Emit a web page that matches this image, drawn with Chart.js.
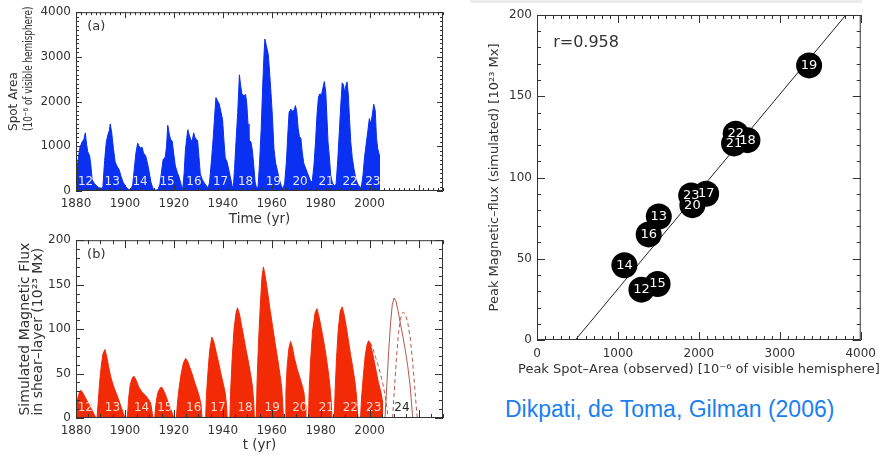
<!DOCTYPE html>
<html><head><meta charset="utf-8">
<script src="https://cdn.jsdelivr.net/npm/chart.js@4.4.1/dist/chart.umd.min.js"></script>
<style>
html,body{margin:0;padding:0;background:#fff;}
body{width:883px;height:455px;position:relative;overflow:hidden;}
canvas{position:absolute;}
#ca{left:0;top:0}
#cb{left:0;top:228px}
#cs{left:470px;top:0}
#strip{position:absolute;left:470px;top:0;width:392px;height:3px;background:#ececec}
#cite{position:absolute;left:505px;top:398px;font:23px/23px "Liberation Sans",Arial,sans-serif;color:#1a80f0;white-space:nowrap}
</style></head><body>
<div id="strip"></div>
<canvas id="ca" width="450" height="228"></canvas>
<canvas id="cb" width="450" height="227"></canvas>
<canvas id="cs" width="413" height="385"></canvas>
<div id="cite">Dikpati, de Toma, Gilman (2006)</div>
<script>
/* ===== 資料 ===== */
// (a) observed spot area, 10^-6 of visible hemisphere
const yearsA = [1880,1881,1881.5,1882.5,1883.2,1883.8,1884.3,1884.8,1885.6,1886.1,1886.6,1887.5,1888.5,1889.5,1890.5,
  1891,1891.7,1892.4,1893,1893.6,1894,1894.6,1895.3,1896,1896.7,1897.6,1898.4,1899.2,1900.3,1901.3,1902.4,
  1903.2,1903.8,1904.5,1905.2,1905.8,1906.4,1907,1907.6,1908.5,1909.3,1910,1910.6,1911.5,1912.5,1913.5,
  1914.3,1915,1915.6,1916.5,1917,1917.5,1918.2,1918.7,1919.3,1919.9,1920.6,1921.4,1922.2,1923,1923.6,
  1924.2,1924.7,1925.3,1925.7,1926.3,1926.9,1927.5,1928.1,1928.6,1929.2,1929.7,1930.2,1930.8,1931.6,1932.4,1933.4,1934,
  1934.6,1935.4,1936.1,1936.7,1937.2,1937.8,1938.5,1939.2,1939.9,1940.5,1941,1941.7,1942.5,1943.2,1943.8,1944.3,
  1944.8,1945.4,1946.1,1946.8,1947.3,1947.8,1948.5,1949.3,1949.8,1950.3,1950.7,1951.5,1952.1,1952.6,1953.2,1953.8,
  1954.4,1955,1955.7,1956.3,1956.8,1957.2,1957.8,1958.6,1959.2,1959.8,1960.3,1960.9,1961.6,1962.3,1963.1,1963.9,1964.6,
  1965.3,1966,1966.6,1967.1,1967.8,1968.5,1969.2,1969.7,1970.2,1970.8,1971.3,1971.9,1972.5,1973.1,1973.8,1974.6,1975.3,1976,
  1976.6,1977.3,1977.9,1978.5,1979.1,1979.6,1980.4,1980.9,1981.5,1982.1,1982.6,1983,1983.5,1984.1,1984.8,1985.6,
  1986.3,1987,1987.6,1988.2,1988.8,1989.3,1989.8,1990.3,1990.8,1991.3,1991.8,1992.3,1992.9,1993.6,1994.4,1995.2,1996,
  1996.6,1997.3,1997.9,1998.6,1999.3,1999.9,2000.5,2001.1,2001.7,2002.3,2002.8,2003.3,2004,2004];
const spotArea = [350,750,950,1100,1150,1300,1050,880,780,560,250,170,110,70,60,
  100,680,1100,1250,1350,1500,1300,950,650,560,480,330,200,100,40,20,
  150,480,850,1070,1000,960,980,850,780,600,400,200,50,20,30,
  150,450,700,760,1000,1470,1250,1150,1120,850,560,420,300,130,30,
  400,900,1200,1370,1250,1150,1120,1300,1200,1150,1130,800,380,260,180,110,60,
  200,700,1200,1700,2090,2020,1950,1780,1600,1100,740,660,460,280,120,80,
  500,1100,1760,2600,2350,2180,2130,2160,1950,1500,1140,1100,900,600,200,60,
  100,600,1400,2340,3000,3400,3250,3050,2600,2100,1650,950,620,460,260,120,40,
  180,650,1300,1760,1830,1780,1820,1910,1780,1400,1220,1180,850,620,520,400,300,200,
  230,600,1100,1700,2100,2170,2160,2300,2450,2200,1600,1100,800,350,180,120,
  150,700,1300,1900,2420,2380,2200,2350,2440,2150,1600,1100,750,500,260,150,90,
  80,350,740,1050,1350,1620,1500,1700,1940,1800,1200,950,800,0];

// (b) simulated magnetic flux in shear layer, 10^23 Mx
const yearsB = [1880,1880.7,1881.5,1882.1,1882.8,1884,1885.3,1886.5,1887.6,1888.1,1888.6,
  1889,1889.6,1890.3,1891,1891.8,1892.5,1893.3,1894.2,1895.3,1896.4,1897.5,1898.5,1899.4,1900,1901,
  1901.5,1902.2,1903,1903.7,1904.5,1905.6,1907,1908.5,1909.6,1910.5,1911.2,1911.5,1912.2,
  1912.6,1913.3,1914.2,1914.9,1915.6,1916.6,1917.6,1918.6,1919.4,1920,1921,
  1921.5,1922.2,1923,1923.9,1924.8,1925.6,1926.5,1927.4,1928.5,1929.5,1930.5,1931.1,1931.5,1933,
  1933.3,1933.9,1934.6,1935.5,1936.3,1937.3,1938.3,1939.3,1940.3,1941,1941.5,1941.8,1942.9,
  1943.2,1943.8,1944.6,1945.4,1946,1946.8,1947.6,1948.5,1949.4,1950.4,1951.3,1952,1952.6,1952.9,1953.7,
  1954,1954.6,1955.3,1956,1956.6,1957.3,1958.3,1959.3,1960.4,1961.5,1962.5,1963.4,1964.1,1964.5,1964.8,1965.5,
  1965.8,1966.3,1967,1967.7,1968.4,1969.3,1970.3,1971.4,1972.4,1973.2,1973.6,1973.9,1975,
  1975.3,1975.9,1976.7,1977.7,1978.5,1979.4,1980.3,1981.2,1982.2,1983,1983.7,1984.2,1984.6,1985.6,
  1985.9,1986.5,1987.2,1988,1988.8,1989.6,1990.5,1991.4,1992.3,1993.1,1994,1994.6,1995.2,1996.3,
  1996.7,1997.4,1998.2,1999,1999.6,2000.3,2001.3,2002.5,2003.6,2004.7,2005.2,2005.2];
const fluxB = [8,22,30,31,28,22,15,9,3,0,0,
  15,38,58,72,77,70,58,46,36,28,20,12,5,0,0,
  22,38,45,47,43,35,29,25,21,17,5,0,0,
  14,27,33,35,32,26,18,11,5,0,0,
  18,35,50,62,67,64,57,50,40,32,23,15,0,0,
  25,50,75,91,86,74,62,49,37,28,15,0,0,
  30,65,100,118,124,117,105,92,78,64,50,38,20,0,0,
  40,85,125,158,170,160,142,122,102,82,65,48,33,15,0,0,
  30,58,78,86,80,67,56,46,37,28,14,0,0,
  30,65,98,118,123,113,100,87,70,54,38,22,0,0,
  30,68,100,120,125,116,102,86,70,57,41,26,0,0,
  22,46,70,83,87,83,72,55,40,28,20,0];
const years23Alt = [2000.3,2001.5,2002.5,2003.4,2004.4,2005.4,2006.2,2006.9,2007.6];
const flux23Alt  = [85,77,68,60,50,39,27,15,0];
const years24Solid = [2006.3,2007,2007.8,2008.6,2009.3,2010,2010.8,2011.6,2012.6,2013.6,2014.6,2015.6,2016.5,2017.1,2017.6];
const flux24Solid  = [0,35,75,108,128,135,131,121,106,92,76,58,38,18,0];
const years24Dash = [2009.4,2010.2,2011,2011.8,2012.6,2013.3,2013.9,2014.7,2015.6,2016.6,2017.5,2018.3,2019,2019.5];
const flux24Dash  = [0,35,68,95,111,118,119,116,107,90,66,40,15,0];

// cycle labels
const cycleNames = ['12','13','14','15','16','17','18','19','20','21','22','23'];
const cycleYearA = [1883.9,1894.8,1906.2,1917.2,1928.2,1939.1,1949.3,1960.7,1971.6,1982.2,1992.0,2001.3];
const cycleYearB = [1883.8,1894.9,1906.8,1916.3,1928.1,1938.0,1949.1,1960.2,1971.5,1982.3,1992.1,2001.7];

// scatter: peak spot area vs peak simulated flux
const peakArea = [1290,1505,1080,1490,1380,2090,2600,3362,1920,2435,2455,1905];
const peakFlux = [31,76,46,34.5,65,90,123,169,83,121,127,89];
const fitArea = [474,3816];
const fitFlux = [0,200];

/* ===== 共用 ===== */
const FONT = '"DejaVu Sans", sans-serif';
const INK = '#333';
const pts = (xs, ys) => xs.map((x, i) => ({x, y: ys[i]}));

// IDL 風格：四邊內刻度 + 外框
const idlFrame = {
  id: 'idlFrame',
  afterDraw(chart, args, o) {
    const {ctx, chartArea: a, scales: {x, y}} = chart;
    ctx.save();
    ctx.strokeStyle = INK; ctx.lineWidth = 1;
    ctx.strokeRect(a.left + .5, a.top + .5, a.right - a.left - 1, a.bottom - a.top - 1);
    const mark = (s, step, len) => {
      const n0 = Math.ceil(s.min / step - 1e-9), n1 = Math.floor(s.max / step + 1e-9);
      for (let n = n0; n <= n1; n++) {
        const p = Math.round(s.getPixelForValue(n * step)) + .5;
        ctx.beginPath();
        if (s.isHorizontal()) {
          ctx.moveTo(p, a.bottom); ctx.lineTo(p, a.bottom - len);
          ctx.moveTo(p, a.top); ctx.lineTo(p, a.top + len);
        } else {
          ctx.moveTo(a.left, p); ctx.lineTo(a.left + len, p);
          ctx.moveTo(a.right, p); ctx.lineTo(a.right - len, p);
        }
        ctx.stroke();
      }
    };
    mark(x, o.xMinor, o.minor); mark(x, o.xMajor, o.major);
    mark(y, o.yMinor, o.minor); mark(y, o.yMajor, o.major);
    ctx.restore();
  }
};

// IDL 兩行 y 標題：第二行從第一行的起點開始
const idlYTitle = {
  id: 'idlYTitle',
  afterDraw(chart, args, o) {
    if (!o.lines) return;
    const {ctx, chartArea: a} = chart;
    ctx.save();
    ctx.fillStyle = INK; ctx.textBaseline = 'middle'; ctx.textAlign = 'left';
    ctx.font = o.font;
    const sq = o.squeeze || [1, 1];
    const start = (a.top + a.bottom) / 2 + ctx.measureText(o.lines[0]).width * sq[0] / 2;
    o.lines.forEach((t, i) => {
      ctx.save();
      ctx.translate(o.x[i], start);
      ctx.rotate(-Math.PI / 2);
      ctx.scale(sq[i], 1);
      ctx.fillText(t, 0, 0);
      ctx.restore();
    });
    ctx.restore();
  }
};

// 座標軸標題（不受繪圖區寬度壓縮）
const wideTitles = {
  id: 'wideTitles',
  afterDraw(chart, args, o) {
    const {ctx, chartArea: a} = chart;
    ctx.save();
    ctx.fillStyle = INK; ctx.font = o.font;
    ctx.textAlign = 'center'; ctx.textBaseline = 'middle';
    ctx.fillText(o.x, (a.left + a.right) / 2, o.xAt);
    ctx.translate(o.yAt, (a.top + a.bottom) / 2);
    ctx.rotate(-Math.PI / 2);
    ctx.fillText(o.y, 0, 0);
    ctx.restore();
  }
};

// 圖內文字（以資料座標定位）
const notes = {
  id: 'notes',
  afterDatasetsDraw(chart, args, o) {
    const {ctx, scales: {x, y}} = chart;
    ctx.save();
    ctx.textBaseline = 'middle';
    (o.items || []).forEach(n => {
      ctx.font = n.font; ctx.fillStyle = n.color; ctx.textAlign = n.align || 'center';
      ctx.fillText(n.text, x.getPixelForValue(n.x), y.getPixelForValue(n.y));
    });
    ctx.restore();
  }
};

function linAxis(min, max, step, pad, size, title) {
  return {
    type: 'linear', min, max,
    grid: {display: false, drawTicks: false}, border: {display: false},
    ticks: {stepSize: step, padding: pad, color: INK, font: {family: FONT, size: 12}, callback: v => String(v)},
    afterBuildTicks: s => { s.ticks = s.ticks.filter(t => Math.abs(t.value / step - Math.round(t.value / step)) < 1e-6); },
    afterFit: s => { if (s.isHorizontal()) s.height = size; else s.width = size; },
    title: title || {display: false}
  };
}

function baseOpts(padding) {
  return {
    responsive: false, animation: false, events: [],
    layout: {padding},
    plugins: {legend: {display: false}, tooltip: {enabled: false}}
  };
}

/* ===== (a) ===== */
const optA = baseOpts({top: 7, right: 7, left: 0, bottom: 0});
optA.scales = {
  x: linAxis(1880, 2030, 20, 6, 37, {display: true, text: 'Time (yr)', color: INK, font: {family: FONT, size: 13.5}, padding: {top: 0, bottom: 0}}),
  y: linAxis(0, 4000, 1000, 5, 76)
};
optA.plugins.idlFrame = {xMajor: 20, xMinor: 2, yMajor: 1000, yMinor: 100, major: 6, minor: 3};
optA.plugins.idlYTitle = {lines: ['Spot Area', '(10\u207B\u2076 of visible hemisphere)'], x: [14, 29],
  font: '12px ' + FONT, squeeze: [1, 0.74]};
optA.plugins.notes = {items: [{text: '(a)', x: 1888.3, y: 3680, font: '13px ' + FONT, color: INK}]
  .concat(cycleNames.map((c, i) => ({text: c, x: cycleYearA[i], y: 215, font: '12px ' + FONT, color: '#e6e6f0'})))};

new Chart(document.getElementById('ca'), {
  type: 'line',
  data: {datasets: [{data: pts(yearsA, spotArea), fill: 'origin', backgroundColor: '#0a30f2', borderColor: '#0a30f2',
    borderWidth: 1, pointRadius: 0, tension: 0}]},
  options: optA,
  plugins: [idlFrame, idlYTitle, notes]
});

/* ===== (b) ===== */
const optB = baseOpts({top: 4, right: 7, left: 0, bottom: 0});
optB.scales = {
  x: linAxis(1880, 2030, 20, 6, 37, {display: true, text: 't (yr)', color: INK, font: {family: FONT, size: 13.5}, padding: {top: 0, bottom: 1}}),
  y: linAxis(0, 200, 50, 5, 76)
};
optB.plugins.idlFrame = {xMajor: 20, xMinor: 5, yMajor: 50, yMinor: 10, major: 8, minor: 4};
optB.plugins.idlYTitle = {lines: ['Simulated Magnetic Flux', 'in shear\u2013layer (10\u00B2\u00B3 Mx)'], x: [25, 38], font: '14px ' + FONT};
optB.plugins.notes = {items: [{text: '(b)', x: 1888.3, y: 184, font: '13px ' + FONT, color: INK},
  {text: '24', x: 2013.2, y: 11, font: '12px ' + FONT, color: '#222'}]
  .concat(cycleNames.map((c, i) => ({text: c, x: cycleYearB[i], y: 11, font: '12px ' + FONT, color: '#f0d8d0'})))};

const thin = (xs, ys, dash) => ({data: pts(xs, ys), fill: false, borderColor: '#b5574c', borderWidth: 1,
  borderDash: dash, pointRadius: 0, tension: 0});
new Chart(document.getElementById('cb'), {
  type: 'line',
  data: {datasets: [
    {data: pts(yearsB, fluxB), fill: 'origin', backgroundColor: '#f22a06', borderColor: '#f22a06', borderWidth: 1, pointRadius: 0, tension: 0},
    thin(years23Alt, flux23Alt, [4, 3]),
    thin(years24Solid, flux24Solid, []),
    thin(years24Dash, flux24Dash, [4, 3])
  ]},
  options: optB,
  plugins: [idlFrame, idlYTitle, notes]
});

/* ===== 散佈圖 ===== */
const optS = baseOpts({top: 15, right: 20, left: 0, bottom: 0});
optS.scales = {
  x: linAxis(0, 4000, 1000, 7, 45),
  y: linAxis(0, 200, 50, 5, 67)
};
optS.plugins.idlFrame = {xMajor: 1000, xMinor: 100, yMajor: 50, yMinor: 10, major: 8, minor: 4};
optS.plugins.wideTitles = {
  x: 'Peak Spot\u2013Area (observed) [10\u207B\u2076 of visible hemisphere]', xAt: 370,
  y: 'Peak Magnetic\u2013flux (simulated) [10\u00B2\u00B3 Mx]', yAt: 25,
  font: '13px ' + FONT
};
optS.plugins.notes = {items: [{text: 'r=0.958', x: 200, y: 183, font: '16px ' + FONT, color: INK, align: 'left'}]};

const dotLabels = {
  id: 'dotLabels',
  afterDatasetsDraw(chart) {
    const {ctx} = chart;
    ctx.save();
    ctx.font = '13px ' + FONT; ctx.fillStyle = '#fff';
    ctx.textAlign = 'center'; ctx.textBaseline = 'middle';
    chart.getDatasetMeta(0).data.forEach((p, i) => ctx.fillText(cycleNames[i], p.x, p.y));
    ctx.restore();
  }
};

new Chart(document.getElementById('cs'), {
  type: 'scatter',
  data: {datasets: [
    {data: pts(peakArea, peakFlux), pointRadius: 13, pointBackgroundColor: '#000', pointBorderWidth: 0, order: 1},
    {type: 'line', data: pts(fitArea, fitFlux), borderColor: '#222', borderWidth: 1, pointRadius: 0, fill: false, order: 2}
  ]},
  options: optS,
  plugins: [idlFrame, wideTitles, notes, dotLabels]
});
</script>
</body></html>
